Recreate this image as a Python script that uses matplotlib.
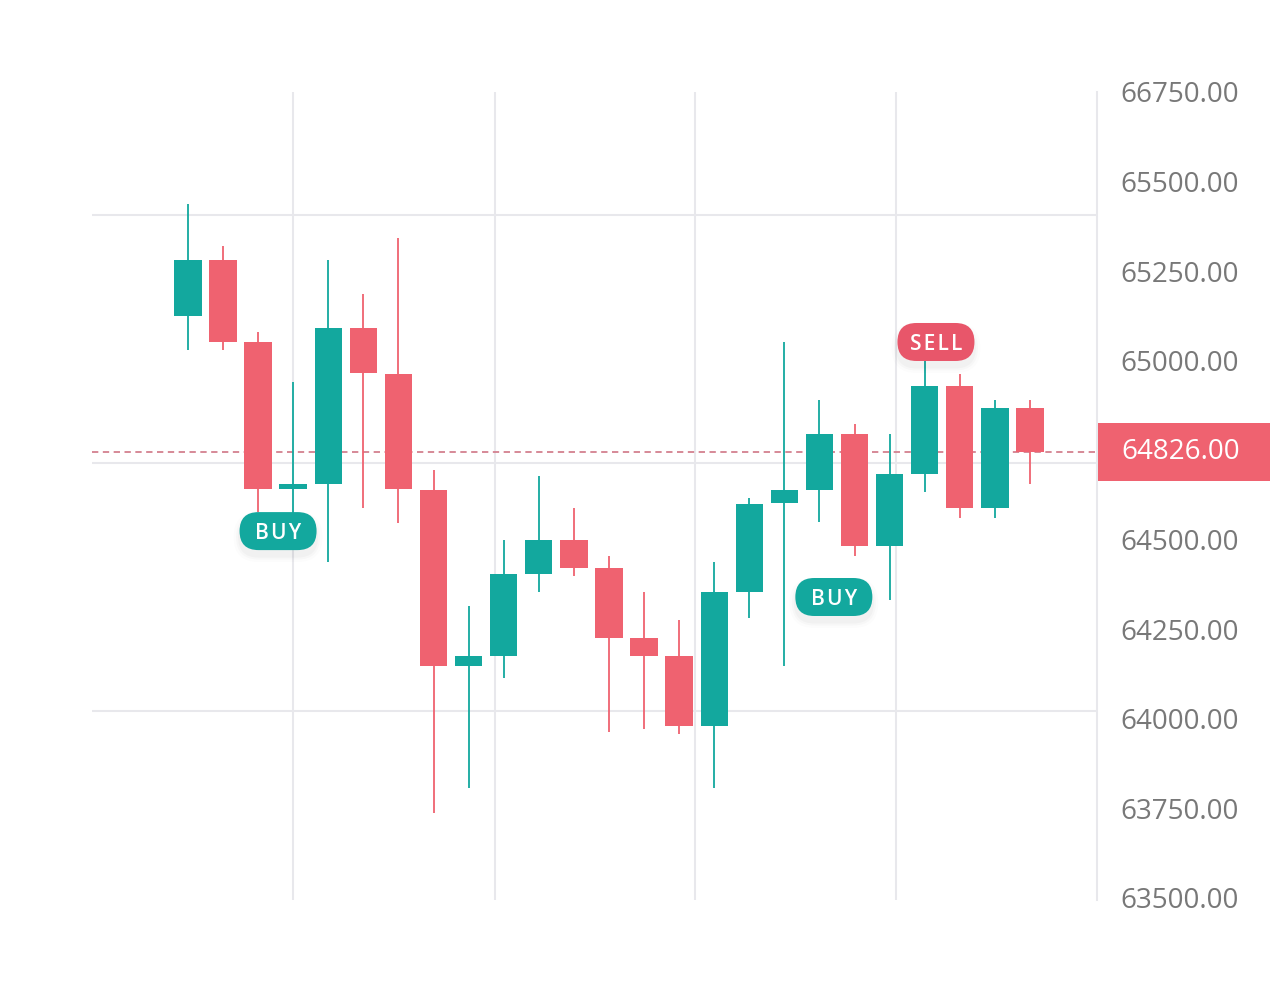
"""Candlestick chart with BUY / SELL signal badges and a last-price tag."""
import matplotlib
matplotlib.use("Agg")
import matplotlib.pyplot as plt
import matplotlib.transforms as mtransforms
from matplotlib.patches import FancyBboxPatch, Rectangle

plt.rcParams["font.family"] = ["Open Sans", "DejaVu Sans"]

# --- data ---
OPEN = [65125, 65281, 65052, 64642, 64656, 65091, 64963, 64639, 64148, 64176,
        64404, 64499, 64421, 64226, 64176, 63980, 64354, 64603, 64639, 64795,
        64483, 64684, 64929, 64589, 64868]
HIGH = [65437, 65320, 65080, 64940, 65281, 65186, 65342, 64695, 64315, 64499,
        64678, 64589, 64455, 64354, 64276, 64438, 64617, 65052, 64890, 64823,
        64795, 65010, 64963, 64890, 64890]
LOW = [65030, 65030, 64577, 64555, 64438, 64589, 64547, 63737, 63807, 64114,
       64354, 64399, 63963, 63972, 63958, 63807, 64282, 64148, 64550, 64455,
       64332, 64633, 64561, 64561, 64656]
CLOSE = [65281, 65052, 64642, 64656, 65091, 64966, 64642, 64148, 64176, 64404,
         64499, 64421, 64226, 64176, 63980, 64354, 64600, 64639, 64795, 64483,
         64684, 64929, 64589, 64868, 64745]

TICK_VALUES = [65750, 65500, 65250, 65000, 64500, 64250, 64000, 63750, 63500]
TICK_LABELS = ["66750.00", "65500.00", "65250.00", "65000.00", "64500.00",
               "64250.00", "64000.00", "63750.00", "63500.00"]
GRID_PRICES = [65407, 64714, 64022]
GRID_X = [3.0, 8.75, 14.45, 20.17]
LAST_LABEL = "64826.00"

SIGNAL_TEXT = ["BUY", "BUY", "SELL"]
SIGNAL_X = [2.57, 18.41, 21.32]
SIGNAL_PRICE = [64524, 64340, 65052]

# --- palette ---
UP = "#13a89e"
DOWN = "#ef6270"
SELL_RED = "#e8566a"
GRID = "#e8e8ec"
TICK = "#787878"
LAST_LINE = "#d3808f"

fig = plt.figure(figsize=(12.7, 10), dpi=100)
fig.patch.set_facecolor("white")
ax = fig.add_axes([92 / 1270, 0.1, (1097 - 92) / 1270, 0.808])
ax.set_facecolor("white")

x = list(range(len(OPEN)))
colors = [UP if c >= o else DOWN for o, c in zip(OPEN, CLOSE)]
bottoms = [min(o, c) for o, c in zip(OPEN, CLOSE)]
heights = [max(abs(c - o), 12) for o, c in zip(OPEN, CLOSE)]

ax.vlines(x, LOW, HIGH, colors=colors, linewidth=1.3, zorder=3)
ax.bar(x, heights, bottom=bottoms, width=0.78, color=colors, linewidth=0, zorder=4)

# grid
for gx in GRID_X:
    ax.axvline(gx, color=GRID, linewidth=1.5, zorder=1)
for gy in GRID_PRICES:
    ax.axhline(gy, color=GRID, linewidth=1.5, zorder=1)

# last price line
last = CLOSE[-1]
ax.axhline(last, color=LAST_LINE, linewidth=1.3, dashes=(3.5, 2.5), zorder=2)

ax.set_xlim(-2.733, 25.91)
ax.set_ylim(63494, 65750)

for side in ("top", "left", "bottom"):
    ax.spines[side].set_visible(False)
ax.spines["right"].set_color(GRID)
ax.spines["right"].set_linewidth(1.5)
ax.set_xticks([])
ax.yaxis.tick_right()
ax.set_yticks(TICK_VALUES)
ax.set_yticklabels(TICK_LABELS)
ax.tick_params(axis="y", length=0, pad=16.5, labelsize=20, labelcolor=TICK)

# last-price tag on the axis
tag_trans = mtransforms.blended_transform_factory(fig.transFigure, ax.transData)
fig.add_artist(Rectangle((1098 / 1270, last - 82), 1 - 1098 / 1270, 164,
                         transform=tag_trans, facecolor=DOWN, linewidth=0,
                         clip_on=False, zorder=5))
fig.text(1121 / 1270, last, LAST_LABEL, transform=tag_trans, ha="left",
         va="center", color="white", fontsize=20, zorder=6)

# signal badges
w, h = 0.77, 0.38
for text, sx, sy in zip(SIGNAL_TEXT, SIGNAL_X, SIGNAL_PRICE):
    color = UP if text == "BUY" else SELL_RED
    base = fig.dpi_scale_trans + mtransforms.ScaledTranslation(sx, sy, ax.transData)
    for k, a in ((0.12, 0.012), (0.07, 0.018), (0.03, 0.022)):
        ax.add_patch(FancyBboxPatch((-w / 2 - k / 2, -h / 2 - 0.06 - k / 2),
                                    w + k, h + k,
                                    boxstyle=f"round,pad=0,rounding_size={(h + k) / 2}",
                                    transform=base, facecolor="#000000", alpha=a,
                                    linewidth=0, zorder=6, clip_on=False))
    ax.add_patch(FancyBboxPatch((-w / 2, -h / 2), w, h,
                                boxstyle=f"round,pad=0,rounding_size={h / 2}",
                                transform=base, facecolor=color, linewidth=0,
                                zorder=7, clip_on=False))
    ax.text(sx, sy, "\u200a".join(text), ha="center", va="center_baseline",
            color="white", fontsize=15, fontweight="semibold", zorder=8)

fig.savefig("out.png", dpi=100, facecolor="white")
